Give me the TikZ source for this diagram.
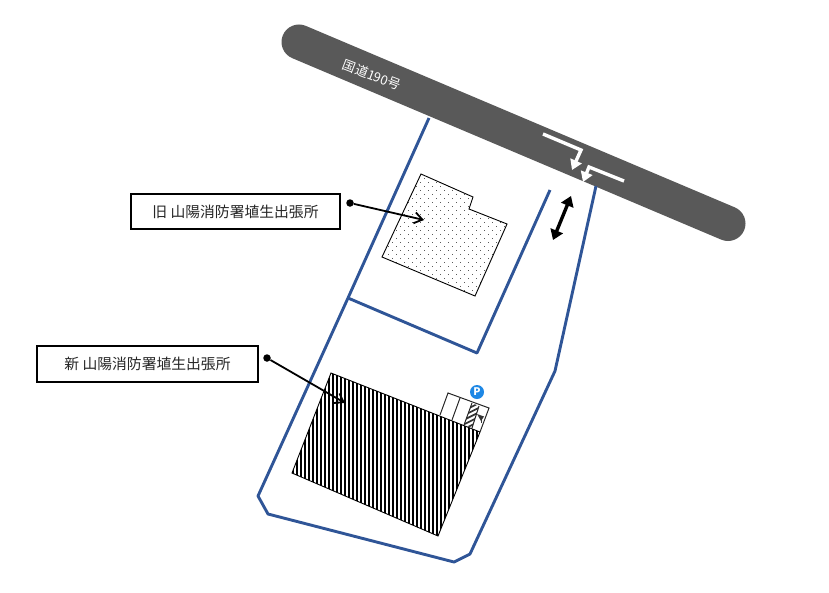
\documentclass[tikz,border=0pt]{standalone}
\usepackage{fontspec}
\setmainfont{Noto Sans CJK JP}
\usetikzlibrary{arrows.meta}
\definecolor{roadgray}{HTML}{595959}
\definecolor{siteblue}{HTML}{2F5597}
\definecolor{pblue}{HTML}{1E88E5}
\tikzset{
  road/.style={line width=35pt,line cap=round,draw=roadgray},
  siteline/.style={draw=siteblue,line width=2.9pt,line join=round},
  building/.style={draw=black,line width=0.9pt,line join=miter},
  labelbox/.style={draw=black,line width=1.6pt,fill=white,minimum height=35pt,inner sep=0pt,font=\fontsize{14.8}{16}\selectfont,text=black!85},
  leaderdot/.style={circle,fill=black,minimum size=7.5pt,inner sep=0pt},
  leader/.style={draw=black,line width=1.8pt,-{Straight Barb[length=8pt,width=11pt,line width=1.8pt]}},
  whitearrow/.style={draw=white,line width=3.4pt,line join=miter,-{Triangle[length=10pt,width=12pt]}},
  bothways/.style={draw=black,line width=3.4pt,{Triangle[length=10pt,width=13pt]}-{Triangle[length=10pt,width=13pt]}},
}
\begin{document}
\begin{tikzpicture}[x=1pt,y=-1pt]
\useasboundingbox (0,0) rectangle (829,592);
% road
\coordinate (roadA) at (299,42);
\coordinate (roadB) at (728,223.5);
\draw[road] (roadA) -- (roadB);
\node[rotate=-21,text=white,font=\fontsize{13}{14}\selectfont,inner sep=0pt] (roadname) at (372,75) {国道190号};
% site outline
\coordinate (s1) at (429,118);
\coordinate (s2) at (348,298);
\coordinate (s3) at (258,496);
\coordinate (s4) at (268,514);
\coordinate (s5) at (454,562);
\coordinate (s6) at (470,554);
\coordinate (s7) at (555,371);
\coordinate (s8) at (596,186);
\coordinate (s9) at (477,353);
\coordinate (s10) at (550,190);
\draw[siteline] (s1) -- (s2) -- (s3) -- (s4) -- (s5) -- (s6) -- (s7) -- (s8);
\draw[siteline] (s2) -- (s9) -- (s10);
% old building
\coordinate (o1) at (421,174);
\coordinate (o2) at (473,197);
\coordinate (o3) at (469,209);
\coordinate (o4) at (507,224);
\coordinate (o5) at (475,296);
\coordinate (o6) at (382,257);
\begin{scope}
\clip (o1) -- (o2) -- (o3) -- (o4) -- (o5) -- (o6) -- cycle;
\foreach \i in {0,...,20}{
  \foreach \j in {0,...,17}{
    \fill[black!65] ({376+8*\i},{170+8*\j}) rectangle +(0.95,0.95);
    \fill[black!65] ({380+8*\i},{174+8*\j}) rectangle +(0.95,0.95);
  }
}
\end{scope}
\draw[building] (o1) -- (o2) -- (o3) -- (o4) -- (o5) -- (o6) -- cycle;
% new building
\coordinate (n1) at (331,373);
\coordinate (n2) at (480,432);
\coordinate (n3) at (438,536);
\coordinate (n4) at (292,473);
\begin{scope}
\clip (n1) -- (n2) -- (n3) -- (n4) -- cycle;
\foreach \i in {0,...,47}{
  \fill[black] ({292+4*\i},365) rectangle ({294.4+4*\i},540);
}
\end{scope}
\draw[building] (n1) -- (n2) -- (n3) -- (n4) -- cycle;
% parking
\coordinate (p1) at (448,393);
\coordinate (p2) at (489,408);
\coordinate (p3) at (480,432);
\coordinate (p4) at (440,415);
\coordinate (d1t) at (460,398);
\coordinate (d1b) at (452,420);
\coordinate (d2t) at (472,403);
\coordinate (d2b) at (464,425);
\coordinate (d3t) at (479,406);
\coordinate (d3b) at (472,428);
\begin{scope}
\clip (d2t) -- (d3t) -- (d3b) -- (d2b) -- cycle;
\foreach \k in {0,...,8}{
  \draw[black!80,line width=1.7pt] (460,{408+4.6*\k}) -- (484,{396+4.6*\k});
}
\end{scope}
\draw[draw=black!85,line width=1pt] (p4) -- (p1) -- (p2) -- (p3);
\draw[draw=black!85,line width=1pt] (d1t) -- (d1b) (d2t) -- (d2b) (d3t) -- (d3b);
\fill[black!80] (477,414) -- (484,416.5) -- (481,421) -- cycle;
\draw[black!80,line width=0.8pt] (481,418) -- (481,423);
\node[circle,fill=pblue,text=white,minimum size=14pt,inner sep=0pt,font=\fontsize{10.5}{10}\selectfont\bfseries] (pmark) at (477,392) {P};
% entrance arrows
\coordinate (w1a) at (543,134);
\coordinate (w1b) at (581,150);
\coordinate (w1c) at (572,170);
\coordinate (w2a) at (624,181);
\coordinate (w2b) at (589,167);
\coordinate (w2c) at (583,182);
\draw[whitearrow] (w1a) -- (w1b) -- (w1c);
\draw[whitearrow] (w2a) -- (w2b) -- (w2c);
\coordinate (ba) at (571,196);
\coordinate (bb) at (553,240);
\draw[bothways] (ba) -- (bb);
% labels
\node[labelbox,minimum width=209pt] (oldlabel) at (235.5,211.5) {旧 山陽消防署埴生出張所};
\node[labelbox,minimum width=221pt,minimum height=36pt] (newlabel) at (147.5,364) {新 山陽消防署埴生出張所};
\node[leaderdot] (olddot) at (350,203) {};
\node[leaderdot] (newdot) at (267,358) {};
\coordinate (oldtip) at (424,220);
\coordinate (newtip) at (345,403);
\draw[leader] (olddot) -- (oldtip);
\draw[leader] (newdot) -- (newtip);
\end{tikzpicture}
\end{document}
